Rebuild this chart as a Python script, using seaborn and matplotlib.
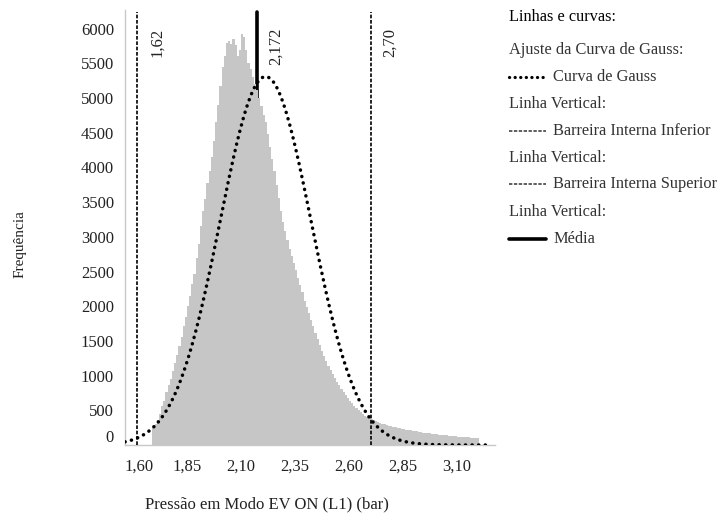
import numpy as np
import pandas as pd
import matplotlib
matplotlib.use("Agg")
import matplotlib.pyplot as plt
import matplotlib.transforms as mtransforms
from matplotlib.lines import Line2D
import seaborn as sns

# ---------------- data ----------------
bin_start = 1.69
bin_width = 0.01
counts = [
    250, 300, 360, 450, 560, 640, 760, 860, 950, 1060,
    1180, 1300, 1420, 1560, 1720, 1850, 2000, 2150, 2320, 2460,
    2700, 2900, 3150, 3380, 3550, 3780, 3950, 4150, 4380, 4650,
    4900, 5180, 5450, 5600, 5800, 5820, 5780, 5850, 5760, 5600,
    5700, 5920, 5880, 5700, 5500, 5420, 5300, 5200, 5120, 5000,
    4880, 4760, 4650, 4480, 4300, 4120, 3950, 3750, 3560, 3380,
    3220, 3080, 2950, 2830, 2720, 2620, 2520, 2400, 2300, 2200,
    2080, 1990, 1900, 1800, 1710, 1620, 1530, 1440, 1360, 1280,
    1210, 1140, 1080, 1020, 960, 910, 860, 810, 760, 720,
    680, 640, 600, 565, 530, 500, 475, 450, 425, 405,
    390, 372, 355, 340, 326, 318, 302, 296, 283, 276,
    270, 258, 254, 246, 244, 234, 232, 222, 220, 210,
    208, 198, 197, 188, 187, 178, 177, 168, 167, 160,
    159, 152, 151, 144, 145, 138, 137, 131, 132, 125,
    126, 120, 119, 114, 115, 109, 110, 104, 105, 100,
    98,
]
gauss_mu = 2.214
gauss_sigma = 0.211
gauss_amp = 5310
gauss_range = (1.563, 3.25)

lower_barrier = 1.62
upper_barrier = 2.70
mean_value = 2.172
lower_label = "1,62"
upper_label = "2,70"
mean_label = "2,172"

x_ticks = [1.60, 1.85, 2.10, 2.35, 2.60, 2.85, 3.10]
x_tick_labels = ["1,60", "1,85", "2,10", "2,35", "2,60", "2,85", "3,10"]
y_ticks = [0, 500, 1000, 1500, 2000, 2500, 3000, 3500, 4000, 4500, 5000, 5500, 6000]
y_tick_labels = [str(v) for v in y_ticks]

x_label = "Pressão em Modo EV ON (L1) (bar)"
y_label = "Frequência"
legend_title = "Linhas e curvas:"
legend_rows = [
    ("header", "Ajuste da Curva de Gauss:"),
    ("gauss", "Curva de Gauss"),
    ("header", "Linha Vertical:"),
    ("dash", "Barreira Interna Inferior"),
    ("header", "Linha Vertical:"),
    ("dash", "Barreira Interna Superior"),
    ("header", "Linha Vertical:"),
    ("mean", "Média"),
]

# ---------------- style ----------------
sns.set_style("white")
plt.rcParams["font.family"] = ["Liberation Serif", "DejaVu Serif"]

W, H = 723, 516
fig = plt.figure(figsize=(W / 100, H / 100), dpi=100)
ax_l, ax_r, ax_t, ax_b = 125, 495, 10, 445
ax = fig.add_axes([ax_l / W, 1 - ax_b / H, (ax_r - ax_l) / W, (ax_b - ax_t) / H])

n = len(counts)
edges = [round(bin_start + bin_width * i, 4) for i in range(n + 1)]
centers = [round(bin_start + bin_width * (i + 0.5), 4) for i in range(n)]
df = pd.DataFrame({"x": centers, "w": counts})

GRAY = "#c6c6c6"
sns.histplot(data=df, x="x", weights="w", bins=edges, color=GRAY, alpha=1,
             linewidth=0, ax=ax, zorder=2)

ymax = 6270
ax.set_xlim(1.563, 3.276)
ax.set_ylim(0, ymax)

# mean line (behind bars)
top_frac = 6240 / ymax
ax.axvline(mean_value, ymin=0, ymax=top_frac, color="black", lw=2.6, zorder=1)
# barrier lines
for xv in (lower_barrier, upper_barrier):
    ax.axvline(xv, ymin=0, ymax=top_frac, color="black", lw=1.2,
               linestyle=(0, (2.2, 1.0)), zorder=4)

# gaussian curve
gx = np.linspace(gauss_range[0], gauss_range[1], 800)
gy = gauss_amp * np.exp(-0.5 * ((gx - gauss_mu) / gauss_sigma) ** 2)
sns.lineplot(x=gx, y=gy, ax=ax, color="black", lw=2.5, zorder=5,
             linestyle=(0, (0.05, 1.85)))
ax.lines[-1].set_dash_capstyle("round")

# vertical line labels
for xv, lab in ((lower_barrier, lower_label), (mean_value, mean_label), (upper_barrier, upper_label)):
    ax.annotate(lab, xy=(xv, 1), xycoords=("data", "axes fraction"),
                xytext=(14, -13), textcoords="offset points",
                rotation=90, ha="center", va="top", fontsize=12, color="#222222")

# axes styling
for s in ("top", "right"):
    ax.spines[s].set_visible(False)
for s in ("left", "bottom"):
    ax.spines[s].set_color("#c8c8c8")
    ax.spines[s].set_linewidth(1.0)
ax.set_xticks(x_ticks)
ax.set_xticklabels(x_tick_labels)
ax.set_yticks(y_ticks)
ax.set_yticklabels(y_tick_labels)
ax.tick_params(axis="both", direction="out", length=4, width=1, color="#c8c8c8",
               labelsize=12, labelcolor="#222222")
ax.tick_params(axis="x", pad=6)
ax.tick_params(axis="y", pad=4)
ax.set_xlabel("")
ax.set_ylabel("")
ax.grid(False)

# shift corner labels
fig.canvas.draw()
xt0 = ax.xaxis.get_major_ticks()[0].label1
xt0.set_transform(xt0.get_transform() + mtransforms.ScaledTranslation(6 / 100, 0, fig.dpi_scale_trans))
yt0 = ax.yaxis.get_major_ticks()[0].label1
yt0.set_transform(yt0.get_transform() + mtransforms.ScaledTranslation(0, 9 / 100, fig.dpi_scale_trans))

# axis titles
fig.text(267 / W, 1 - 504 / H, x_label, ha="center", va="center", fontsize=12, color="#222222")
fig.text(20 / W, 1 - 244 / H, y_label, ha="center", va="center", rotation=90, fontsize=11, color="#222222")

# legend (manual)
lx = 509
fig.text(lx / W, 1 - 17 / H, legend_title, ha="left", va="center", fontsize=11.8, color="black")
ys = [50, 77, 104, 131, 158, 184, 212, 239]
for (kind, text), yp in zip(legend_rows, ys):
    yf = 1 - yp / H
    if kind == "header":
        fig.text(lx / W, yf, text, ha="left", va="center", fontsize=11.8, color="#333333")
    else:
        if kind == "gauss":
            ln = Line2D([lx / W, 546 / W], [yf, yf], transform=fig.transFigure, color="black",
                        lw=2.3, linestyle=(0, (0.05, 1.7)), dash_capstyle="round")
        elif kind == "dash":
            ln = Line2D([lx / W, 546 / W], [yf, yf], transform=fig.transFigure, color="#333333",
                        lw=1.1, linestyle=(0, (2.2, 1.0)))
        else:
            ln = Line2D([lx / W, 546 / W], [yf, yf], transform=fig.transFigure, color="black", lw=2.6)
        fig.add_artist(ln)
        fig.text(553 / W, yf, text, ha="left", va="center", fontsize=11.8, color="#333333")

fig.savefig("out.png", dpi=100)
